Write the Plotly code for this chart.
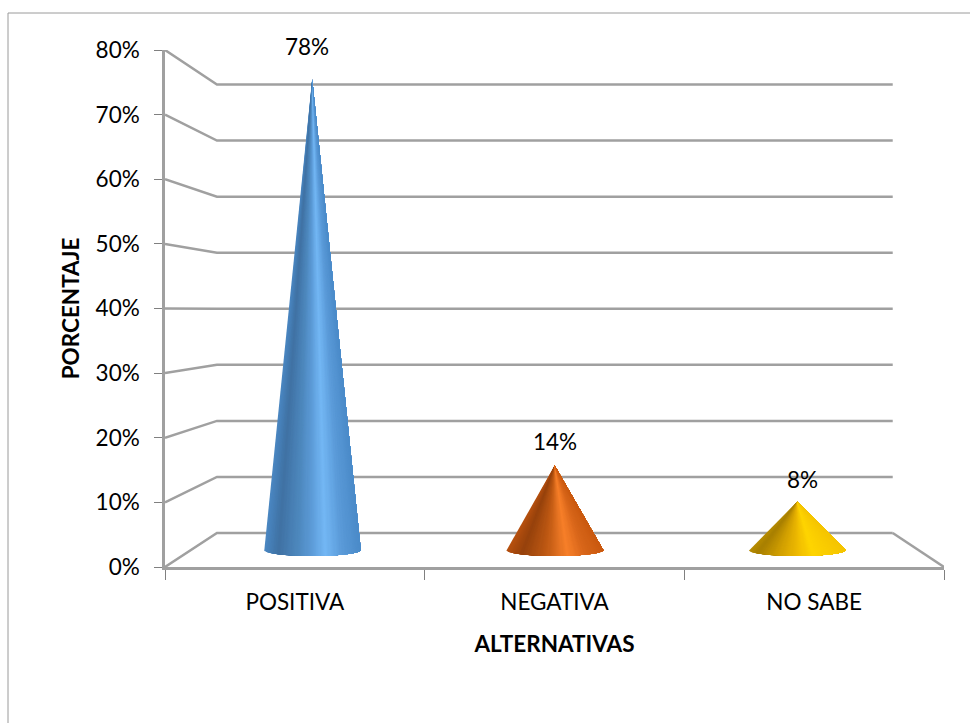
import math
import plotly.graph_objects as go

# Survey results
categories = ["POSITIVA", "NEGATIVA", "NO SABE"]
percentages = [78, 14, 8]
y_ticks = [0, 10, 20, 30, 40, 50, 60, 70, 80]
y_tick_labels = ["0%", "10%", "20%", "30%", "40%", "50%", "60%", "70%", "80%"]

# Shading across each cone, left to right: (fraction of width, r, g, b)
cone_shades = [
    [(0, 74, 134, 192), (0.14, 64, 114, 164), (0.35, 79, 138, 192), (0.5, 95, 159, 220),
     (0.62, 116, 184, 245), (0.8, 90, 154, 216), (1, 74, 138, 200)],
    [(0, 181, 80, 15), (0.15, 150, 66, 12), (0.4, 192, 90, 20), (0.62, 248, 128, 42),
     (0.8, 216, 102, 26), (1, 201, 89, 15)],
    [(0, 181, 138, 0), (0.08, 168, 127, 0), (0.3, 210, 160, 0), (0.5, 240, 188, 0),
     (0.65, 255, 213, 0), (1, 245, 196, 0)],
]

WIDTH, HEIGHT = 970, 723
LEFT, RIGHT, TOP, BOTTOM = 165, 944, 50, 567
GRID = "#a0a0a0"
FONT = "Lato"
TEXT_SIZE = 22.5

# The floor recedes from the axis plane (depth 0) to the back wall (depth 1).
DEPTH_SCALE = 0.1325
DEPTH_X = 0.2
DEPTH_Y = 5.26
CONE_DEPTH = 0.5
CONE_RADIUS = 0.187
CONE_TILT = 0.93
SLICES = 70


def project(cat, value, depth):
    scale = 1 - DEPTH_SCALE * depth
    return DEPTH_X * depth + cat * scale, DEPTH_Y * depth + value * scale


def shade(stops, t):
    for (t0, r0, g0, b0), (t1, r1, g1, b1) in zip(stops, stops[1:]):
        if t <= t1:
            f = (t - t0) / (t1 - t0)
            return "rgb(%d,%d,%d)" % (r0 + (r1 - r0) * f, g0 + (g1 - g0) * f, b0 + (b1 - b0) * f)
    return "rgb(%d,%d,%d)" % stops[-1][1:]


fig = go.Figure()


def add_polyline(points):
    fig.add_trace(go.Scatter(
        x=[p[0] for p in points], y=[p[1] for p in points], mode="lines",
        line=dict(color=GRID, width=2.5), hoverinfo="skip", showlegend=False, cliponaxis=False))


# Wall gridlines and the floor outline
for v in y_ticks:
    add_polyline([project(0, v, 0), project(0, v, 1), project(3, v, 1)])
add_polyline([project(3, 0, 1), project(3, 0, 0)])

# Cones, painted as overlapping slices sweeping across the visible surface
label_shift = [(-5, 33), (0, 24), (5, 22)]
annotations = []
for i, (name, value, stops) in enumerate(zip(categories, percentages, cone_shades)):
    cx, cy = project(i + 0.5, 0, CONE_DEPTH)
    ax, ay = project(i + 0.5, value, CONE_DEPTH)
    angles = [math.pi + math.pi * k / 120 for k in range(121)]
    arc = [(cx + CONE_RADIUS * math.cos(a), cy + CONE_TILT * math.sin(a)) for a in angles]
    for s in range(SLICES):
        t = s / (SLICES - 1)
        first = next(k for k, a in enumerate(angles) if (1 + math.cos(a)) / 2 >= t - 1e-9)
        part = arc[first:] if first < len(arc) - 1 else arc[-2:]
        fig.add_trace(go.Scatter(
            x=[ax] + [p[0] for p in part] + [ax],
            y=[ay] + [p[1] for p in part] + [ay],
            mode="lines", fill="toself", fillcolor=shade(stops, t),
            line=dict(width=0), hoverinfo="skip", showlegend=False, name=name))
    dx, dy = label_shift[i]
    annotations.append(dict(
        x=ax, y=ay, xref="x", yref="y", text=f"{value}%", showarrow=False,
        xshift=dx, yshift=dy, font=dict(family=FONT, size=TEXT_SIZE, color="black")))

fig.update_layout(
    width=WIDTH, height=HEIGHT, autosize=False,
    margin=dict(l=LEFT, r=WIDTH - RIGHT, t=TOP, b=HEIGHT - BOTTOM, pad=0),
    paper_bgcolor="white", plot_bgcolor="white", showlegend=False,
    font=dict(family=FONT, color="black"),
    annotations=annotations,
    xaxis=dict(
        range=[0, 3], showgrid=False, zeroline=False, showline=True, linecolor=GRID, linewidth=2.5,
        tickmode="array", tickvals=[0.5, 1.5, 2.5], ticktext=categories, ticks="", ticklen=0,
        ticklabelstandoff=13, tickfont=dict(family=FONT, size=TEXT_SIZE, color="black"),
        minor=dict(tickmode="array", tickvals=[0, 1, 2, 3], ticks="outside", ticklen=10,
                   tickwidth=1, tickcolor="#808080", showgrid=False),
        title=dict(text="<b>ALTERNATIVAS</b>", standoff=23, font=dict(family=FONT, size=TEXT_SIZE, color="black")),
    ),
    yaxis=dict(
        range=[0, 80], showgrid=False, zeroline=False, showline=True, linecolor=GRID, linewidth=2.5,
        tickmode="array", tickvals=y_ticks, ticktext=y_tick_labels, ticks="outside", ticklen=8, tickwidth=1,
        ticklabelstandoff=10, tickcolor="#808080", tickfont=dict(family=FONT, size=TEXT_SIZE, color="black"),
        title=dict(text="<b>PORCENTAJE</b>", standoff=10, font=dict(family=FONT, size=TEXT_SIZE, color="black")),
    ),
    # Thin outline of the chart area, open on the right and at the bottom
    shapes=[
        dict(type="line", xref="paper", yref="paper", layer="below",
             x0=(8 - LEFT) / (RIGHT - LEFT), x1=(WIDTH - LEFT) / (RIGHT - LEFT),
             y0=(BOTTOM - 13) / (BOTTOM - TOP), y1=(BOTTOM - 13) / (BOTTOM - TOP),
             line=dict(color="#9a9a9a", width=1)),
        dict(type="line", xref="paper", yref="paper", layer="below",
             x0=(8 - LEFT) / (RIGHT - LEFT), x1=(8 - LEFT) / (RIGHT - LEFT),
             y0=(BOTTOM - 13) / (BOTTOM - TOP), y1=(BOTTOM - HEIGHT) / (BOTTOM - TOP),
             line=dict(color="#9a9a9a", width=1)),
    ],
)

fig.write_html("out.html", config={"displayModeBar": False})
